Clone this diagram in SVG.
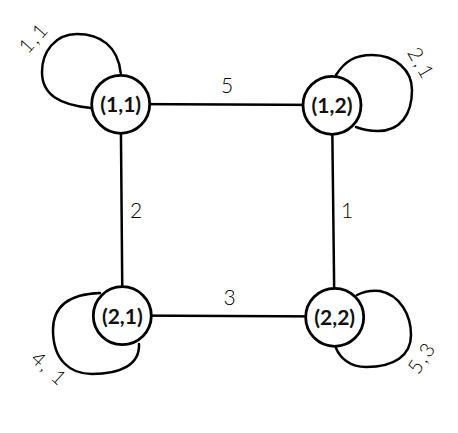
<svg xmlns="http://www.w3.org/2000/svg" width="458" height="433" viewBox="0 0 458 433">
<style>
.edge{fill:none;stroke:#000;stroke-width:2.5;stroke-linecap:round}
.node circle{fill:#fff;stroke:#000;stroke-width:2.8}
.node text{font-family:Lato,"Noto Sans",sans-serif;font-weight:700;font-size:21px;text-anchor:middle;fill:#111}
.lbl{font-family:Lato,"Noto Sans",sans-serif;font-weight:300;font-size:21px;text-anchor:middle;fill:#000}
.ll{font-family:Lato,"Noto Sans",sans-serif;font-weight:300;font-size:20px;letter-spacing:2px;text-anchor:middle;dominant-baseline:central;fill:#000}
</style>
<rect width="458" height="433" fill="#fff"/>
<g id="connectors">
<path class="edge" d="M121,104 L332,105"/>
<path class="edge" d="M120.7,104 L122.5,316"/>
<path class="edge" d="M332,105 L334.5,317"/>
<path class="edge" d="M122,315.5 L334.5,316.5"/>
<path class="edge" d="M120.7,73 C118,46 100,34 77,34 C55,34 42,52 42,72 C42,95 60,105 91,108"/>
<path class="edge" d="M336,75 C345,61 355,55 372,55 C395,55 412,70 412,90 C412,115 400,131 378,131 C368,131 361,129 356,127"/>
<path class="edge" d="M100,293 C70,294 53,306 53,330 C53,360 70,374 92,374 C120,374 140,365 139,344"/>
<path class="edge" d="M357,295 C365,291 372,290 380,291 C400,295 411,315 411,335 C411,355 395,367 366,367 C350,367 340,358 336,348"/>
<text class="lbl" x="227" y="93">5</text>
<text class="lbl" x="136" y="218">2</text>
<text class="lbl" x="347" y="218">1</text>
<text class="lbl" x="229.5" y="305">3</text>
<text class="ll" transform="translate(33,37) rotate(-48)">1,1</text>
<text class="ll" transform="translate(422,63) rotate(60)">2,1</text>
<text class="ll" transform="translate(50,368) rotate(42)">4, 1</text>
<text class="ll" transform="translate(421,357) rotate(-56)">5,3</text>
</g>
<g id="n11" class="node"><circle cx="120.7" cy="104.3" r="29"/><text x="120.7" y="112">(1,1)</text></g>
<g id="n12" class="node"><circle cx="332" cy="105.3" r="29"/><text x="332" y="113">(1,2)</text></g>
<g id="n21" class="node"><circle cx="122.3" cy="315.7" r="29"/><text x="122.3" y="323.5">(2,1)</text></g>
<g id="n22" class="node"><circle cx="334.7" cy="317.3" r="29"/><text x="334.7" y="325">(2,2)</text></g>
</svg>
